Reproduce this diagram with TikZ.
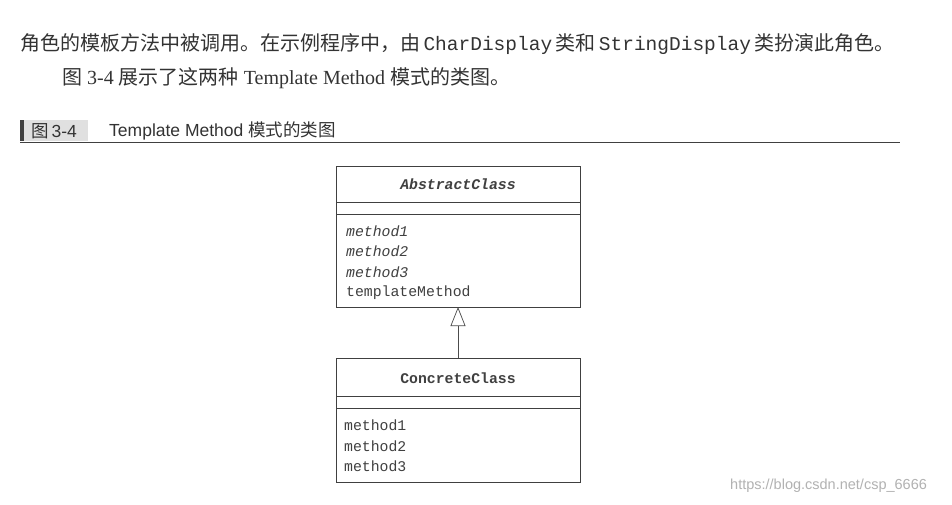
\documentclass[tikz,border=0pt]{standalone}
\usepackage{fontspec}
\setmainfont{Liberation Serif}
\setsansfont{Liberation Sans}
\setmonofont{Liberation Mono}
\newfontfamily\cjk{Noto Sans CJK SC}
\usetikzlibrary{arrows.meta}
\tikzset{
  body/.style={font=\fontsize{20}{23}\selectfont, anchor=west, inner sep=0pt, text=black!80},
  mono/.style={font=\ttfamily\fontsize{14.8}{17}\selectfont, anchor=west, inner sep=0pt, text=black!75},
  frame/.style={draw=black!75, line width=0.8pt},
  inherit/.style={draw=black!70, line width=0.7pt, -{Triangle[open, length=19pt, width=15pt]}}
}
\begin{document}
\begin{tikzpicture}[x=1pt,y=-1pt]
\useasboundingbox (0,0) rectangle (952,505);
\fill[white] (0,0) rectangle (952,505);
\node[body] (l1) at (20,44) {{\cjk 角色的模板方法中被调用。在示例程序中，由}\,{\ttfamily\fontsize{19.5}{23}\selectfont CharDisplay}\,{\cjk 类和}\,{\ttfamily\fontsize{19.5}{23}\selectfont StringDisplay}\,{\cjk 类扮演此角色。}};
\node[body] (l2) at (62,78) {{\cjk 图} 3-4 {\cjk 展示了这两种} Template Method {\cjk 模式的类图。}};
\fill[black!12] (20,120) rectangle (88,141);
\fill[black!75] (20,120) rectangle (24,141);
\node[body, font=\sffamily\fontsize{17.5}{19}\selectfont] (hn) at (31,131) {{\cjk 图}\,3-4};
\node[body, font=\sffamily\fontsize{17.5}{19}\selectfont] (ht) at (109,131) {Template Method {\cjk 模式的类图}};
\draw[black!75, line width=0.8pt] (20,142) -- (900,142);
% Abstract class
\draw[frame] (336,166) rectangle (580,307);
\draw[frame] (336,202) -- (580,202);
\draw[frame] (336,214) -- (580,214);
\node[mono, anchor=center, font=\ttfamily\bfseries\itshape\fontsize{14.8}{17}\selectfont] (at) at (458,184) {AbstractClass};
\node[mono, font=\ttfamily\itshape\fontsize{14.8}{17}\selectfont] (a1) at (346,231) {method1};
\node[mono, font=\ttfamily\itshape\fontsize{14.8}{17}\selectfont] (a2) at (346,251) {method2};
\node[mono, font=\ttfamily\itshape\fontsize{14.8}{17}\selectfont] (a3) at (346,272) {method3};
\node[mono] (a4) at (346,293) {templateMethod};
% Concrete class
\draw[frame] (336,358) rectangle (580,482);
\draw[frame] (336,396) -- (580,396);
\draw[frame] (336,408) -- (580,408);
\node[mono, anchor=center, font=\ttfamily\bfseries\fontsize{14.8}{17}\selectfont] (ct) at (458,378) {ConcreteClass};
\node[mono] (c1) at (344,425) {method1};
\node[mono] (c2) at (344,446) {method2};
\node[mono] (c3) at (344,466) {method3};
\coordinate (cTop) at (458,358);
\coordinate (aBot) at (458,307);
\draw[inherit] (cTop) -- (aBot);
\node[body, font=\sffamily\fontsize{14.5}{16}\selectfont, text=black!30] (wm) at (730,486) {https://blog.csdn.net/csp\_6666};
\end{tikzpicture}
\end{document}
